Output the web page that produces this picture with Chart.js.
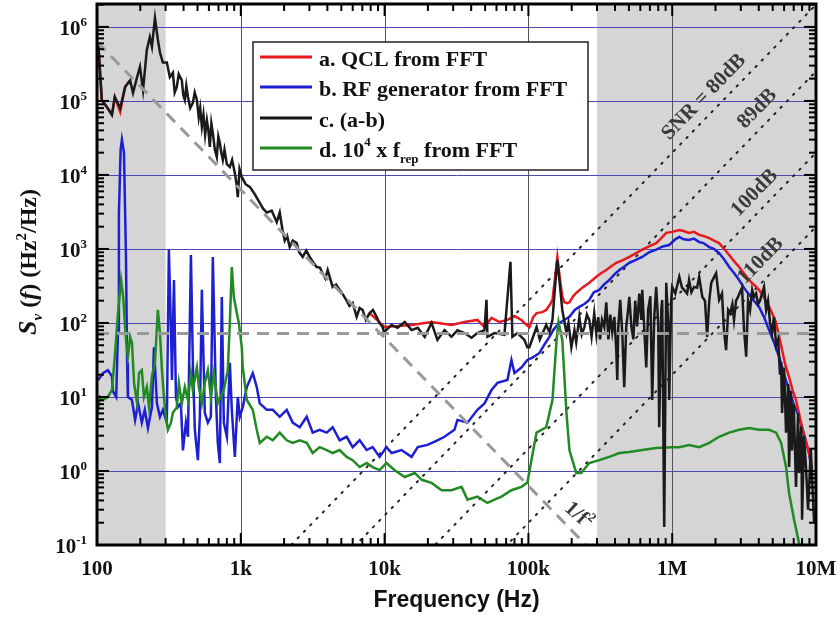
<!DOCTYPE html>
<html>
<head>
<meta charset="utf-8">
<script src="https://cdn.jsdelivr.net/npm/chart.js@4.4.1/dist/chart.umd.min.js"></script>
<style>
  html, body { margin: 0; padding: 0; background: #fff; }
  #wrap { width: 837px; height: 621px; }
</style>
</head>
<body>
<div id="wrap"><canvas id="graficoRuido" width="837" height="621"></canvas></div>
<script>
// c. (a-b)
const blackFreq = [102,108,117,127,133,145,157,170,178,190,199,209,222,233,241,253,265,274,287,306,
  321,337,347,359,370,389,398,408,418,429,445,464,478,495,510,522,536,550,565,581,
  595,609,624,639,660,681,698,715,732,750,770,800,839,870,909,935,953,980,1016,1080,
  1155,1250,1355,1430,1516,1640,1778,1865,1950,2021,2100,2188,2300,2448,2550,2694,2850,3013,3200,3371,
  3550,3710,3870,4019,4180,4354,4600,4870,5150,5447,5700,5996,6392,6700,7036,7400,7868,8300,8799,9200,
  9686,9900,
  11190,12300,13800,15400,17000,19000,21200,23300,26100,29200,32100,35900,40200,44200,49500,51100,51900,58100,68100,75000,
  77400,83900,93800,98400,
  101600,114000,120000,133000,140000,147000,153000,159000,165000,172000,184000,190000,199000,209000,215000,226000,235000,245000,255000,265000,
  275000,287000,297000,306000,315000,325000,337000,348000,360000,371000,383000,396000,408000,415000,422000,435000,450000,464000,479000,495000,
  503000,520000,537000,553000,570000,590000,610000,619000,640000,660000,680000,705000,726000,750000,774000,799000,812000,840000,852000,880000,
  909000,938000,953000,984000,
  1e6,1.05e6,1.12e6,1.17e6,1.21e6,1.27e6,1.31e6,1.36e6,1.42e6,1.49e6,1.54e6,1.62e6,1.69e6,1.75e6,1.81e6,1.87e6,1.96e6,2.02e6,2.12e6,2.22e6,
  2.29e6,2.37e6,2.45e6,2.53e6,2.62e6,2.69e6,2.78e6,2.87e6,2.96e6,3.06e6,3.16e6,3.27e6,3.37e6,3.48e6,3.6e6,3.71e6,3.83e6,3.96e6,4.08e6,4.22e6,
  4.35e6,4.5e6,4.64e6,4.79e6,4.95e6,5.1e6,5.28e6,5.45e6,5.62e6,5.72e6,5.81e6,6.0e6,6.19e6,6.4e6,6.5e6,6.7e6,6.81e6,7.0e6,7.26e6,7.5e6,
  7.62e6,7.9e6,8.0e6,8.25e6,8.52e6,8.8e6,8.94e6,9.2e6,9.38e6,9.7e6];
const blackVal = [6.1e5,1.03e5,8.3e4,6.5e4,1.13e5,8.0e4,1.55e5,1.9e5,1.28e5,2.1e5,2.9e5,1.4e5,4.9e5,7.3e5,5.4e5,1.32e6,6.7e5,4.5e5,3.3e5,3.3e5,
  2.1e5,2.4e5,1.3e5,1.55e5,2.3e5,1.9e5,1.2e5,1.03e5,1.6e5,1.13e5,8.0e4,9.4e4,1.3e5,1.03e5,6.0e4,8.0e4,4.5e4,6.5e4,3.5e4,5.5e4,
  4.0e4,2.4e4,5.0e4,3.7e4,2.2e4,1.75e4,3.3e4,2.7e4,2.0e4,1.6e4,2.2e4,1.4e4,1.28e4,1.6e4,1.06e4,7.5e3,5.0e3,1.2e4,9.4e3,7.5e3,
  6.9e3,5.5e3,4.2e3,3.5e3,3.1e3,3.3e3,2.3e3,3.1e3,1.8e3,1.3e3,1.5e3,1.06e3,1.3e3,1.2e3,900,780,950,780,650,570,
  560,470,400,520,400,307,330,280,240,200,170,186,121,160,150,110,136,150,121,100,
  88,75,
  94,86,103,80,86,65,100,59,80,65,80,73,63,73,80,205,65,73,69,670,
  65,73,59,47,
  47,88,60,94,75,110,300,710,350,150,73,100,47,80,55,121,70,88,130,110,
  65,136,70,120,60,110,88,190,60,130,75,121,45,17,90,205,70,13.6,88,160,
  225,90,60,200,90,250,110,280,80,25,150,230,9.1,120,307,100,3.9,150,205,0.175,
  350,100,9.1,200,
  307,250,420,300,280,250,380,260,307,300,420,225,200,65,200,350,420,470,205,250,
  80,43,150,136,180,110,200,225,260,300,80,35,200,150,280,225,250,180,200,250,
  307,150,200,100,73,120,50,60,20,30,6.1,25,3.3,15,1.13,12,1.9,8,0.61,6,
  0.94,4,0.22,3,1.13,0.3,0.55,2,0.83,0.2];

// a. QCL from FFT (hidden under c. between ~200 Hz and 8 kHz)
const redFreq = [102,108,117,127,133,145,157,170,175,
  7868,1e4,15400,21200,29200,35900,44200,49500,55400,62900,71500,80000,89400,93800,
  101600,108000,114000,125000,133000,142000,147000,153000,159000,165000,172000,178000,186000,193000,205000,215000,237000,265000,297000,320000,
  348000,375000,408000,450000,503000,550000,619000,690000,774000,840000,909000,
  1e6,1.12e6,1.2e6,1.31e6,1.42e6,1.54e6,1.65e6,1.81e6,1.95e6,2.12e6,2.3e6,2.49e6,2.7e6,2.92e6,3.15e6,3.43e6,3.7e6,4.02e6,4.35e6,4.72e6,
  5.0e6,5.28e6,5.5e6,5.81e6,6.1e6,6.5e6,6.9e6,7.26e6,7.62e6,8.0e6,8.5e6,8.94e6,9.38e6];
const redVal = [6.1e5,1.03e5,8.3e4,6.5e4,1.13e5,7.1e4,1.55e5,1.9e5,null,
  136,88,94,103,94,103,110,88,117,103,110,124,110,100,
  88,120,136,140,150,180,205,400,780,420,230,190,185,190,230,254,300,350,420,470,
  520,580,650,700,780,860,980,1080,1200,1400,1650,
  1700,1800,1750,1650,1700,1550,1500,1400,1300,1200,1000,830,680,570,470,380,330,280,220,165,
  130,100,70,43,28,18.6,12,9.1,6,3.9,2.5,1.75,1.13];

// b. RF generator from FFT
const blueFreq = [102,110,119,127,129,136,140,142,146,149,154,159,162,164,175,184,193,205,215,226,
  241,249,261,274,287,306,316,327,332,343,354,365,383,396,415,429,450,464,479,503,
  519,536,562,590,619,639,671,692,715,738,762,800,839,866,909,953,984,
  1032,1101,1212,1291,1355,1516,1668,1865,2086,2296,2568,2872,3162,3537,3955,4354,4870,5447,5996,6707,7500,8254,9231,10300,
  11200,13100,15400,17000,19900,23300,26100,30600,32100,37700,44200,49500,55400,60900,71500,76200,80000,89400,98400,106600,
  119000,130000,140000,150000,164000,175000,193000,210000,226000,245000,265000,285000,311000,335000,365000,395000,429000,460000,503000,550000,
  619000,690000,774000,860000,953000,1.05e6,1.12e6,1.2e6,1.31e6,1.42e6,1.54e6,1.65e6,1.81e6,1.95e6,2.12e6,2.3e6,2.49e6,2.7e6,2.92e6,3.15e6,
  3.43e6,3.7e6,4.02e6,4.35e6,4.72e6,5.1e6,5.54e6,6.0e6,6.5e6,7.0e6,7.62e6,8.3e6,8.94e6,9.38e6];
const blueVal = [17,21,23,19,12,10,80,3000,2.2e4,3.0e4,2.0e4,800,29,10,9.1,4.9,8.2,4.5,6.7,3.8,
  7.3,47,8.2,5.4,6.7,4.5,980,80,17,380,10,7.3,8.2,1.9,4.5,2.9,830,29,3.6,1.4,
  5.4,280,6.1,4.5,5.4,780,10,2.4,1.28,225,4.5,2.9,29,6.7,1.55,10,5.4,
  7.3,13.6,21,13.6,8.2,6.7,6.7,5.4,6.7,4.5,3.9,5.4,3.3,3.6,3.3,3.9,2.6,2.9,2.1,2.6,1.92,2.1,1.55,2.1,
  1.75,1.92,1.55,2.1,2.25,2.6,2.9,3.6,4.9,4.5,6.7,8.2,12.4,15.5,17,31.6,21,25,31.6,34,
  39,52,65,82,100,108,121,150,165,180,205,260,280,330,380,450,520,570,650,700,
  780,900,980,1080,1130,1350,1450,1350,1320,1380,1240,1200,1060,1000,880,720,570,470,380,300,
  240,200,165,120,80,55,35,20,12.4,8,5.4,3,1.75,0.94];

// d. 10^4 x f_rep from FFT
const greenFreq = [100,105,110,119,127,133,140,147,152,159,164,170,175,181,190,196,205,212,222,230,
  241,253,265,274,283,292,301,311,327,337,359,371,389,408,429,450,464,495,511,536,
  562,590,619,650,692,726,762,812,839,866,894,938,969,1016,1032,
  1101,1212,1291,1355,1516,1668,1865,2086,2296,2568,2872,3162,3537,3955,4354,4870,5447,5996,6707,7500,8254,9231,10300,
  11700,13800,16200,18100,21200,24900,29200,34300,37700,44200,51900,58100,65000,76200,89400,98400,
  110000,114000,133000,147000,157000,162000,172000,184000,193000,215000,233000,265000,311000,365000,429000,503000,619000,774000,1e6,1.12e6,
  1.31e6,1.54e6,1.81e6,2.12e6,2.49e6,2.92e6,3.43e6,4.02e6,4.72e6,5.28e6,5.72e6,6.19e6,6.5e6,7.04e6,7.62e6,8.0e6];
const greenVal = [5.4,10,9.1,10,12.4,35,136,380,225,59,35,65,54,15.5,8.2,21,23,10,13.6,7.3,
  19,29,150,73,23,10,5.4,3.6,4.5,6.1,7.3,15.5,8.2,13.6,9.1,21,12.4,25,13.6,8.2,
  15.5,23,10,21,8.2,10,12.4,23,100,570,225,136,100,47,25,
  9.1,6.7,3.6,2.4,2.9,2.6,3.3,2.6,2.4,2.6,2.4,1.75,2.1,1.92,1.75,1.92,1.55,1.4,1.13,1.28,1.13,1.03,1.28,
  1.03,0.83,0.94,0.76,0.69,0.55,0.55,0.61,0.41,0.45,0.37,0.41,0.45,0.55,0.61,0.7,
  2.3,3.3,3.9,9.1,59,103,59,6,1.9,0.94,0.94,1.28,1.4,1.55,1.75,1.8,1.92,2.05,2.1,2.1,
  2.25,2.1,2.4,2.9,3.3,3.6,3.8,3.6,3.6,3.3,2.4,1.13,0.5,0.22,0.106,0.07];

// guide lines
const flatLevel = 72;              // horizontal dashed line
const invSqCoef = 6.3e9;           // 1/f^2 dashed line: S = coef / f^2
const snrLevels = [80, 89, 100, 110];
const snrRef = 0.3;                // S = f^2 * 10^(snrRef - dB/10)
const snrLabels = ['SNR = 80dB', '89dB', '100dB', '110dB'];
const snrLabelFreq = [2.0e6, 4.7e6, 4.5e6, 4.95e6];
const invSqLabelAt = [2.26e5, 0.26];

const shadeRanges = [[100, 300], [3e5, 1e7]];
const xTickValues = [100, 1e3, 1e4, 1e5, 1e6, 1e7];
const xTickLabels = ['100', '1k', '10k', '100k', '1M', '10M'];
const yTickExps = [-1, 0, 1, 2, 3, 4, 5, 6];

const legendItems = [
  { color: '#e8191e', parts: [['a. QCL from FFT', 22, 0]] },
  { color: '#1f1fd2', parts: [['b. RF generator from FFT', 22, 0]] },
  { color: '#151515', parts: [['c. (a-b)', 22, 0]] },
  { color: '#228a22', parts: [['d. 10', 22, 0], ['4', 13, -11], [' x f', 22, 0], ['rep', 13, 6], [' from FFT', 22, 0]] }
];

const SERIF = '"Liberation Serif", "Times New Roman", serif';
const fontB = (px, it) => `${it ? 'italic ' : ''}bold ${px}px ${SERIF}`;

const pts = (fs, vs) => fs.map((f, i) => ({ x: f, y: vs[i] }));

function richWidth(ctx, parts) {
  let w = 0;
  parts.forEach(p => { ctx.font = fontB(p[1], p[3]); w += ctx.measureText(p[0]).width; });
  return w;
}
function drawRich(ctx, x, y, parts) {
  let cx = x;
  parts.forEach(p => {
    ctx.font = fontB(p[1], p[3]);
    ctx.fillText(p[0], cx, y + p[2]);
    cx += ctx.measureText(p[0]).width;
  });
}

const decor = {
  id: 'decor',
  beforeDatasetsDraw(chart) {
    const { ctx, chartArea: a, scales: { x, y } } = chart;
    ctx.save();
    ctx.fillStyle = '#d5d5d5';
    shadeRanges.forEach(([f0, f1]) => {
      const p0 = x.getPixelForValue(f0), p1 = x.getPixelForValue(f1);
      ctx.fillRect(p0, a.top, p1 - p0, a.bottom - a.top);
    });
    ctx.lineWidth = 1;
    ctx.strokeStyle = '#4a4ab4';
    yTickExps.forEach(e => {
      const py = Math.round(y.getPixelForValue(10 ** e)) + 0.5;
      ctx.beginPath(); ctx.moveTo(a.left, py); ctx.lineTo(a.right, py); ctx.stroke();
    });
    ctx.strokeStyle = '#555';
    xTickValues.slice(1, -1).forEach(v => {
      const px = Math.round(x.getPixelForValue(v)) + 0.5;
      ctx.beginPath(); ctx.moveTo(px, a.top); ctx.lineTo(px, a.bottom); ctx.stroke();
    });
    ctx.restore();
  },
  afterDatasetsDraw(chart) {
    const { ctx, chartArea: a, scales: { x, y } } = chart;
    ctx.save();

    // SNR labels along the dotted lines
    ctx.fillStyle = '#3a3a3a';
    ctx.textAlign = 'center';
    ctx.textBaseline = 'middle';
    snrLevels.forEach((db, i) => {
      const k = 10 ** (snrRef - db / 10);
      const f = snrLabelFreq[i];
      const px = x.getPixelForValue(f), py = y.getPixelForValue(f * f * k);
      const qx = x.getPixelForValue(f * 2), qy = y.getPixelForValue(4 * f * f * k);
      const ang = Math.atan2(qy - py, qx - px);
      const nx = Math.sin(ang), ny = -Math.cos(ang);
      ctx.save();
      ctx.translate(px + nx * 16, py + ny * 16);
      ctx.rotate(ang);
      ctx.font = fontB(21);
      ctx.fillText(snrLabels[i], 0, 0);
      ctx.restore();
    });

    // 1/f^2 label
    ctx.save();
    ctx.translate(x.getPixelForValue(invSqLabelAt[0]), y.getPixelForValue(invSqLabelAt[1]));
    ctx.rotate(42 * Math.PI / 180);
    ctx.textAlign = 'left';
    ctx.textBaseline = 'alphabetic';
    const lp = [['1/f', 21, 0], ['2', 13, -9]];
    drawRich(ctx, -richWidth(ctx, lp) / 2, 7, lp);
    ctx.restore();

    // frame and ticks
    ctx.strokeStyle = '#000';
    ctx.lineWidth = 2;
    const line = (x0, y0, x1, y1) => { ctx.beginPath(); ctx.moveTo(x0, y0); ctx.lineTo(x1, y1); ctx.stroke(); };
    for (let d = 100; d < 1e7; d *= 10) {
      for (let k = 1; k <= 9; k++) {
        const px = x.getPixelForValue(d * k);
        const len = k === 1 ? 12 : 7;
        line(px, a.bottom, px, a.bottom - len);
        line(px, a.top, px, a.top + len);
      }
    }
    for (let e = -1; e <= 6; e++) {
      for (let k = 1; k <= 9; k++) {
        const v = k * 10 ** e;
        if (v > y.max) break;
        const py = y.getPixelForValue(v);
        const len = k === 1 ? 12 : 7;
        line(a.left, py, a.left + len, py);
        line(a.right, py, a.right - len, py);
      }
    }
    ctx.lineWidth = 3;
    ctx.strokeRect(a.left, a.top, a.right - a.left, a.bottom - a.top);

    // legend
    const lb = { l: 253, t: 42, r: 588, b: 170 };
    ctx.fillStyle = '#fff';
    ctx.fillRect(lb.l, lb.t, lb.r - lb.l, lb.b - lb.t);
    ctx.lineWidth = 1.5;
    ctx.strokeStyle = '#222';
    ctx.strokeRect(lb.l, lb.t, lb.r - lb.l, lb.b - lb.t);
    const rowY = [57, 87, 118, 148];
    ctx.textAlign = 'left';
    ctx.textBaseline = 'alphabetic';
    legendItems.forEach((it, i) => {
      ctx.strokeStyle = it.color;
      ctx.lineWidth = 3;
      line(260, rowY[i], 312, rowY[i]);
      ctx.fillStyle = '#111';
      drawRich(ctx, 319, rowY[i] + 9, it.parts);
    });

    // tick labels
    ctx.fillStyle = '#111';
    ctx.textAlign = 'center';
    ctx.font = fontB(21);
    xTickValues.forEach((v, i) => ctx.fillText(xTickLabels[i], x.getPixelForValue(v), 575));
    yTickExps.forEach(e => {
      const py = y.getPixelForValue(10 ** e);
      ctx.textAlign = 'right';
      ctx.font = fontB(13);
      const ex = String(e);
      ctx.fillText(ex, 87, py - 1);
      const ew = ctx.measureText(ex).width;
      ctx.font = fontB(21);
      ctx.fillText('10', 87 - ew, py + 8);
    });

    // axis titles
    ctx.textAlign = 'center';
    ctx.font = 'bold 23px "Liberation Sans", Arial, sans-serif';
    ctx.fillText('Frequency (Hz)', (a.left + a.right) / 2, 607);

    ctx.save();
    ctx.translate(36, 262);
    ctx.rotate(-Math.PI / 2);
    ctx.textAlign = 'left';
    const yp = [['S', 26, 0, true], ['ν', 15, 6, true], [' (', 24, 0], ['f', 24, 0, true], [') (Hz', 24, 0], ['2', 15, -10], ['/Hz)', 24, 0]];
    drawRich(ctx, -richWidth(ctx, yp) / 2, 0, yp);
    ctx.restore();

    ctx.restore();
  }
};

const dotted = snrLevels.map(db => {
  const k = 10 ** (snrRef - db / 10);
  return {
    data: [{ x: 100, y: 1e4 * k }, { x: 1e7, y: 1e14 * k }],
    borderColor: '#222', borderWidth: 2, borderDash: [1.5, 7.5], borderCapStyle: 'round', order: 9
  };
});

new Chart(document.getElementById('graficoRuido'), {
  type: 'line',
  data: {
    datasets: [
      { data: pts(blackFreq, blackVal), borderColor: '#1a1a1a', order: 1 },
      { data: pts(greenFreq, greenVal), borderColor: '#228a22', order: 2 },
      { data: pts(redFreq, redVal), borderColor: '#e8191e', order: 3 },
      { data: pts(blueFreq, blueVal), borderColor: '#1f1fd2', order: 4 },
      ...dotted,
      { data: [{ x: 100, y: flatLevel }, { x: 1e7, y: flatLevel }],
        borderColor: '#999', borderWidth: 3, borderDash: [12, 8], order: 0 },
      { data: [{ x: 100, y: invSqCoef / 1e4 }, { x: 1e6, y: invSqCoef / 1e12 }],
        borderColor: '#999', borderWidth: 3, borderDash: [12, 8], order: 0 }
    ]
  },
  options: {
    responsive: false,
    animation: false,
    devicePixelRatio: 1,
    layout: { padding: { top: 4, right: 21, bottom: 0, left: 0 } },
    elements: {
      point: { radius: 0 },
      line: { borderWidth: 2.5, tension: 0, fill: false }
    },
    plugins: {
      legend: { display: false },
      tooltip: { enabled: false }
    },
    scales: {
      x: {
        type: 'logarithmic', min: 100, max: 1e7,
        grid: { display: false }, border: { display: false }, ticks: { display: false },
        afterFit: s => { s.height = 76; }
      },
      y: {
        type: 'logarithmic', min: 0.1, max: 2.04e6,
        grid: { display: false }, border: { display: false }, ticks: { display: false },
        afterFit: s => { s.width = 97; }
      }
    }
  },
  plugins: [decor]
});
</script>
</body>
</html>
